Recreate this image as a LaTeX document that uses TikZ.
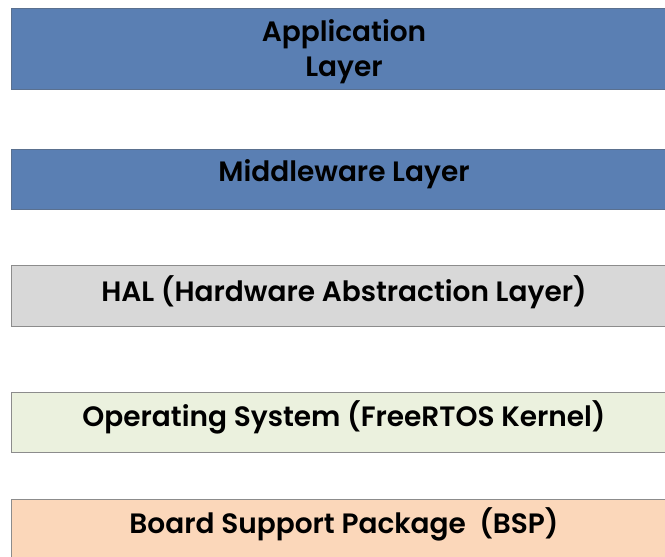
\documentclass[tikz,border=0pt]{standalone}
\usepackage{fontspec}
\setmainfont{Poppins}[UprightFont={* SemiBold}]
\definecolor{blueF}{HTML}{5A7FB3}
\definecolor{blueD}{HTML}{4A6A96}
\definecolor{grayF}{HTML}{D8D8D8}
\definecolor{greenF}{HTML}{EBF1DE}
\definecolor{peachF}{HTML}{FBD7BA}
\definecolor{edgeG}{HTML}{8C8C8C}
\tikzset{
  layer/.style={draw=edgeG, line width=0.9pt, inner sep=0pt},
  lbl/.style={font=\fontsize{28}{35}\selectfont, text=black, align=center, inner sep=0pt}
}
\begin{document}
\begin{tikzpicture}[x=1pt,y=-1pt]
\useasboundingbox (0,0) rectangle (665,557);
\begin{scope}
\clip (0,0) rectangle (665,557);
\path[layer, fill=blueF, draw=blueD!70!gray] (11,8.5) rectangle (678,89.5);
\path[layer, fill=blueF, draw=blueD!70!gray] (11,149.5) rectangle (678,209.5);
\path[layer, fill=grayF] (11,265.5) rectangle (678,326);
\path[layer, fill=greenF] (11,392.5) rectangle (678,452);
\path[layer, fill=peachF] (11,499.5) rectangle (678,570);
\end{scope}
\node[lbl] (app) at (344,51.5) {Application\\Layer};
\node[lbl] (mid) at (344,174) {Middleware Layer};
\node[lbl] (hal) at (344,292) {HAL (Hardware Abstraction Layer)};
\node[lbl] (os) at (344,417) {Operating System (FreeRTOS Kernel)};
\node[lbl] (bsp) at (344,524) {Board Support Package~~(BSP)};
\end{tikzpicture}
\end{document}
